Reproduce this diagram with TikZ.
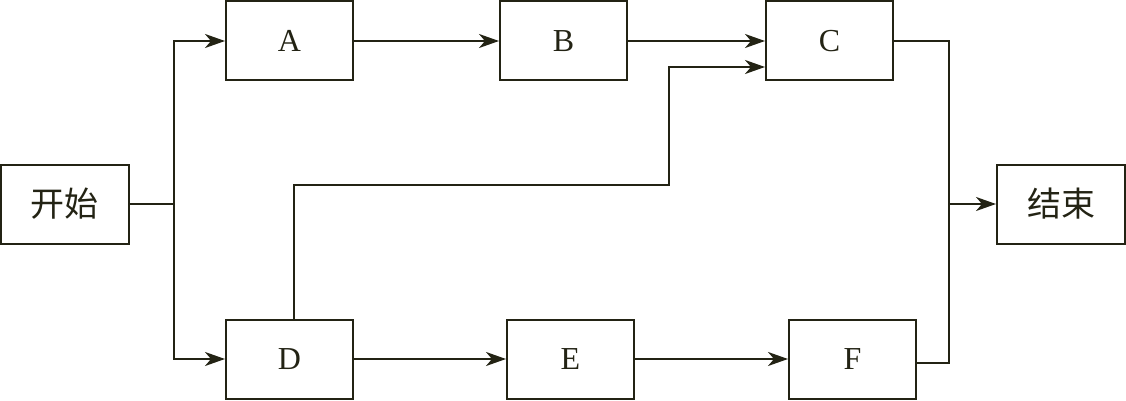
\documentclass[tikz,border=0pt]{standalone}
\usepackage{fontspec}
\setmainfont{Liberation Serif}
\newfontfamily\cjk{Noto Sans CJK SC}
\usetikzlibrary{arrows.meta}
\definecolor{ink}{RGB}{35,35,20}
\begin{document}
\begin{tikzpicture}[x=1pt,y=-1pt,
  box/.style={draw=ink,line width=2pt,minimum width=127pt,minimum height=79pt,inner sep=0pt,font=\fontsize{32}{36}\selectfont,text=ink},
  cbox/.style={box,minimum width=128pt,font=\cjk\fontsize{34}{38}\selectfont},
  line/.style={draw=ink,line width=2pt},
  arr/.style={line,-{Stealth[length=20pt,width=14pt,inset=6pt]}}]
\useasboundingbox (0,0) rectangle (1126,401);
\node[cbox] (start) at (64.5,204) {开始};
\node[box] (A) at (289.5,41) {A};
\node[box] (B) at (563.5,41) {B};
\node[box] (C) at (829.5,41) {C};
\node[box] (D) at (289.5,359) {D};
\node[box] (E) at (570.5,359) {E};
\node[box] (F) at (852.5,359) {F};
\node[cbox] (end) at (1061,204) {结束};
\coordinate (s) at (174,204);
\coordinate (m) at (949,204);
\draw[line] (start.east) -- (s);
\draw[arr] (s) |- (A.west);
\draw[arr] (s) |- (D.west);
\draw[arr] (A) -- (B);
\draw[arr] (B) -- (C);
\draw[arr] (D) -- (E);
\draw[arr] (E) -- (F);
\draw[arr] (D.north -| 294,0) -- (294,185) -- (669,185) -- (669,67) -- (C.west |- 0,67);
\draw[line] (C.east) -| (m);
\draw[line] (F.east |- 0,363) -| (m);
\draw[arr] (m) -- (end.west);
\end{tikzpicture}
\end{document}
